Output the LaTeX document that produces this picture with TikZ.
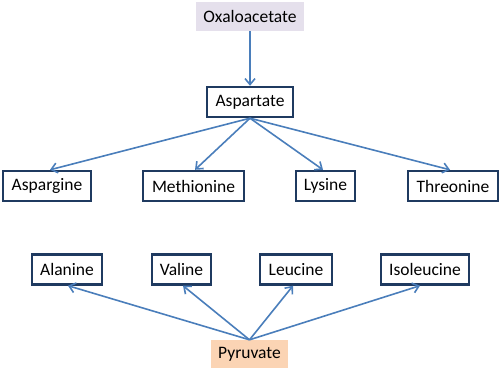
\documentclass[tikz,border=0pt]{standalone}
\usepackage{fontspec}
\setmainfont{Carlito}
\usetikzlibrary{arrows.meta}
\definecolor{boxline}{HTML}{1F3A60}
\definecolor{arrowc}{HTML}{4A7EBB}
\definecolor{oxfill}{HTML}{E5E0EC}
\definecolor{pyfill}{HTML}{FBD4B4}
\begin{document}
\begin{tikzpicture}[x=1pt,y=-1pt,
  font=\fontsize{17.5}{20}\selectfont,
  aa/.style={draw=boxline,line width=2.4pt,fill=white,inner sep=0pt,minimum height=30pt},
  src/.style={inner sep=0pt,minimum height=29pt},
  conn/.style={draw=arrowc,line width=1.6pt,-{Straight Barb[length=6pt,width=10pt]}}]
\useasboundingbox (0,0) rectangle (500,369);
\node[src,fill=oxfill,minimum width=108pt] (oxa) at (250,16.5) {Oxaloacetate};
\node[aa,minimum width=86pt] (asp) at (250,102) {Aspartate};
\node[aa,minimum width=88pt] (asn) at (47,186) {Aspargine};
\node[aa,minimum width=101pt] (met) at (193.5,186) {Methionine};
\node[aa,minimum width=59pt] (lys) at (325.5,186) {Lysine};
\node[aa,minimum width=90pt] (thr) at (453,186) {Threonine};
\node[aa,minimum width=70pt] (ala) at (67,269.5) {Alanine};
\node[aa,minimum width=59pt] (val) at (181.5,269.5) {Valine};
\node[aa,minimum width=72pt] (leu) at (296,269.5) {Leucine};
\node[aa,minimum width=88pt] (ile) at (425,269.5) {Isoleucine};
\node[src,fill=pyfill,minimum width=77pt,minimum height=28pt] (pyr) at (249.5,354) {Pyruvate};
\draw[conn] (oxa.south) -- (asp.north);
\draw[conn] (asp.south) -- ([xshift=3pt]asn.north);
\draw[conn] (asp.south) -- ([xshift=1.5pt]met.north);
\draw[conn] (asp.south) -- ([xshift=-2.5pt]lys.north);
\draw[conn] (asp.south) -- ([xshift=-3pt]thr.north);
\draw[conn] (pyr.north) -- ([xshift=1pt]ala.south);
\draw[conn] (pyr.north) -- ([xshift=1.5pt]val.south);
\draw[conn] (pyr.north) -- ([xshift=-3pt]leu.south);
\draw[conn] (pyr.north) -- ([xshift=-5pt]ile.south);
\end{tikzpicture}
\end{document}
